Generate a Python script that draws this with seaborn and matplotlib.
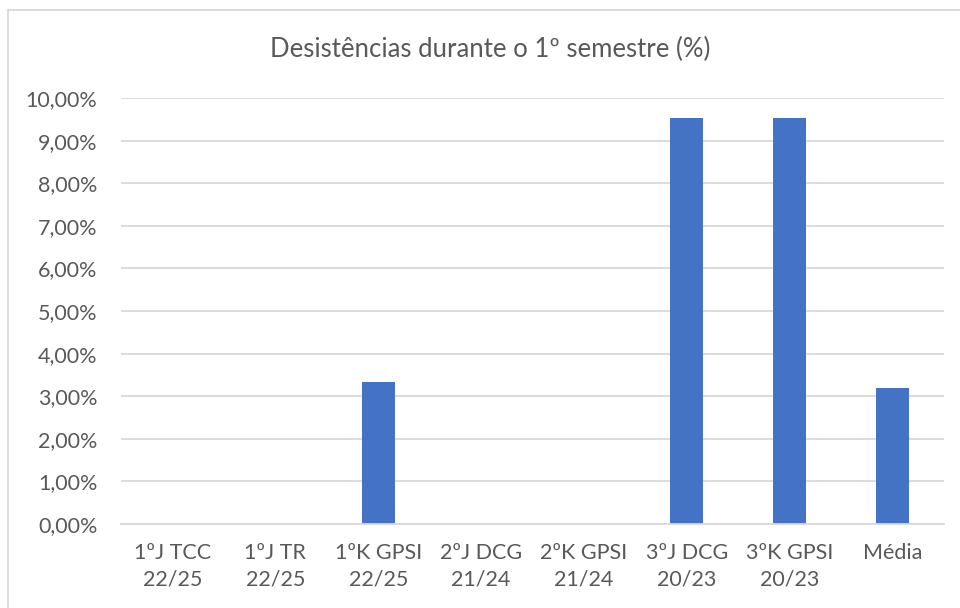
import matplotlib
matplotlib.use("Agg")
import matplotlib.pyplot as plt
import seaborn as sns
import pandas as pd
from matplotlib.ticker import FuncFormatter, MultipleLocator
from matplotlib.lines import Line2D

categories = ["1ºJ TCC\n22/25", "1ºJ TR\n22/25", "1ºK GPSI\n22/25", "2ºJ DCG\n21/24",
              "2ºK GPSI\n21/24", "3ºJ DCG\n20/23", "3ºK GPSI\n20/23", "Média"]
values = [0.0, 0.0, 3.33, 0.0, 0.0, 9.52, 9.52, 3.19]
title = "Desistências durante o 1º semestre (%)"

sns.set_theme(style="white")
plt.rcParams["font.family"] = ["Lato", "DejaVu Sans"]

df = pd.DataFrame({"cat": categories, "val": values})

fig = plt.figure(figsize=(9.6, 6.08), dpi=100)
ax = fig.add_axes([121/960, 1 - 524/608, (944-121)/960, (524-98)/608])
sns.barplot(data=df, x="cat", y="val", color="#4472C4", width=0.32, ax=ax,
            saturation=1, edgecolor="none")
ax.set_ylim(0, 10)
ax.set_xlim(-0.5, len(categories) - 0.5)
ax.yaxis.set_major_locator(MultipleLocator(1))
ax.yaxis.set_major_formatter(FuncFormatter(lambda v, p: f"{v:.2f}".replace(".", ",") + "%"))
ax.grid(axis="y", color="#D9D9D9", linewidth=1.3)
ax.set_axisbelow(True)
for s in ["top", "right", "left"]:
    ax.spines[s].set_visible(False)
ax.spines["bottom"].set_color("#D9D9D9")
ax.spines["bottom"].set_linewidth(1.3)
ax.tick_params(axis="both", length=0, labelsize=15.5, colors="#595959")
ax.tick_params(axis="y", pad=17)
ax.tick_params(axis="x", pad=14)
for lbl in ax.get_xticklabels():
    lbl.set_linespacing(1.4)
ax.set_xlabel("")
ax.set_ylabel("")
fig.text(490/960, 1 - 49/608, title, ha="center", va="center", fontsize=18.5, color="#595959")

# chart frame
fig.add_artist(Line2D([8/960, 8/960], [0, 1 - 10/608], transform=fig.transFigure, color="#D9D9D9", lw=1.3))
fig.add_artist(Line2D([8/960, 1], [1 - 10/608, 1 - 10/608], transform=fig.transFigure, color="#D9D9D9", lw=1.3))

fig.savefig("out.png", dpi=100)
